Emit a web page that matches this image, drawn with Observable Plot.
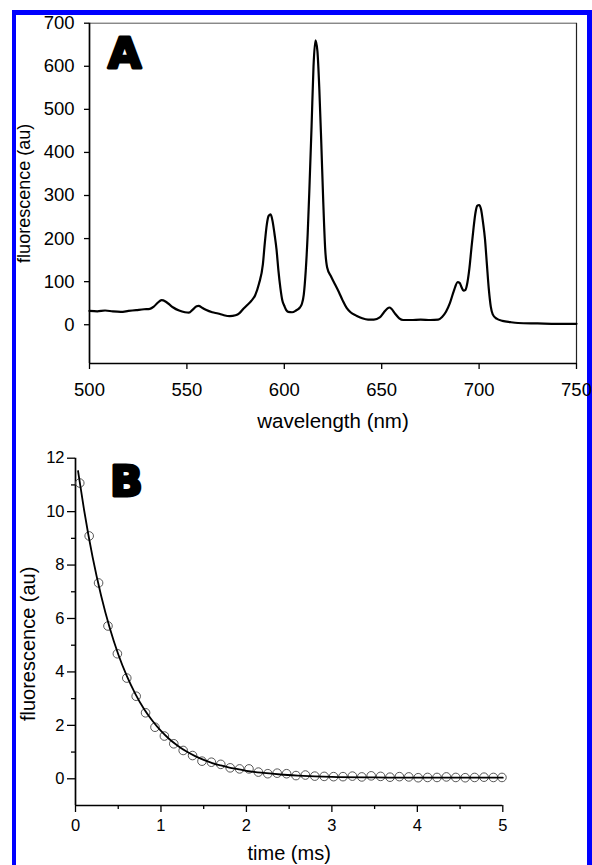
<!DOCTYPE html>
<html><head><meta charset="utf-8">
<script src="https://cdn.jsdelivr.net/npm/d3@7"></script>
<script src="https://cdn.jsdelivr.net/npm/@observablehq/plot@0.6"></script>
<style>
html,body{margin:0;padding:0;background:#fff;}
#wrap{position:relative;width:592px;height:865px;overflow:hidden;background:#fff;font-family:"Liberation Sans",Arial,sans-serif;}
#border{position:absolute;left:12px;top:10px;width:571px;height:900px;border-top:5px solid #0000ff;border-left:4px solid #0000ff;border-right:5px solid #0000ff;}
.panel{position:absolute;left:0;}
</style></head>
<body><div id="wrap"><div id="border"></div><div id="a" class="panel" style="top:0"></div><div id="b" class="panel" style="top:440px"></div></div>
<script>
// Panel A: emission spectrum
const wavelength = [500,504,508,512,516,520,524,528,531,533,535,537,539,541,543,546,549,551,553,555,556,558,560,563,566,569,572,575,577,579,581,583,585,587,589,590,591,592,593,594,595,596,597,598,599,600,601,602,604,606,608,609,610,611,612,613,614,615,616,617,618,619,620,621,622,624,626,628,630,632,634,637,640,643,646,649,651,653,654,655,657,659,661,665,670,675,679,681,683,685,687,689,690,691,692,693,694,695,696,697,698,699,700,701,702,703,704,705,706,707,709,712,716,720,730,740,750];
const intensity = [32,31,33,31,30,32,34,36,37,42,51,57,54,47,40,33,29,28,35,43,44,39,34,29,26,22,20,22,27,37,46,55,68,95,140,190,232,253,256,240,210,175,125,85,56,44,34,30,29,33,40,48,70,125,210,330,460,600,660,635,545,420,285,175,133,112,94,76,56,39,29,21,15,12,12,17,28,38,40,37,25,15,11,11,12,11,12,18,30,50,78,99,97,87,79,81,98,130,175,218,256,276,278,268,238,200,140,82,42,24,14,9,6,4,3,2,2];
const xTicksA = [500,550,600,650,700,750];
const yTicksA = [0,100,200,300,400,500,600,700];

// Panel B: decay
const times = [0.05,0.16,0.27,0.38,0.49,0.60,0.71,0.82,0.93,1.04,1.15,1.26,1.37,1.48,1.59,1.70,1.81,1.92,2.03,2.14,2.25,2.36,2.47,2.58,2.69,2.80,2.91,3.02,3.13,3.24,3.35,3.46,3.57,3.68,3.79,3.90,4.01,4.12,4.23,4.34,4.45,4.56,4.67,4.78,4.89,4.99];
const decay = [11.07,9.09,7.33,5.72,4.68,3.77,3.09,2.47,1.93,1.60,1.31,1.06,0.87,0.66,0.62,0.54,0.41,0.37,0.37,0.25,0.19,0.21,0.19,0.12,0.14,0.10,0.09,0.08,0.08,0.10,0.07,0.11,0.09,0.06,0.08,0.07,0.04,0.05,0.05,0.07,0.05,0.04,0.05,0.06,0.05,0.05];
const fitTimes = [0.03,0.1,0.2,0.3,0.4,0.5,0.6,0.7,0.8,0.9,1.0,1.1,1.2,1.3,1.4,1.5,1.6,1.7,1.8,1.9,2.0,2.2,2.4,2.6,2.8,3.0,3.5,4.0,4.5,5.0];
const fitValues = [11.52,10.07,8.30,6.85,5.65,4.66,3.85,3.18,2.62,2.17,1.79,1.48,1.23,1.02,0.85,0.71,0.59,0.50,0.42,0.36,0.30,0.22,0.16,0.12,0.09,0.07,0.05,0.04,0.04,0.04];
const xTicksB = [0,1,2,3,4,5];
const xMinorB = [0.5,1.5,2.5,3.5,4.5];
const yTicksB = [0,2,4,6,8,10,12];
const yMinorB = [1,3,5,7,9,11];

const FONT = "Liberation Sans, Arial, sans-serif";
const spectrum = wavelength.map((w, i) => ({w, v: intensity[i]}));
const points = times.map((t, i) => ({t, v: decay[i]}));
const fit = fitTimes.map((t, i) => ({t, v: fitValues[i]}));

const plotA = Plot.plot({
  width: 592, height: 440,
  marginLeft: 89, marginRight: 16, marginTop: 22.7, marginBottom: 77,
  style: {fontFamily: FONT, fontSize: "18.5px", color: "#000", background: "transparent", overflow: "visible"},
  x: {domain: [500, 750]},
  y: {domain: [-90, 700]},
  marks: [
    Plot.ruleY([700], {stroke: "#555", strokeWidth: 1}),
    Plot.ruleX([750], {stroke: "#222", strokeWidth: 1.2}),
    Plot.ruleY([-90], {stroke: "#000", strokeWidth: 1.7}),
    Plot.ruleX([500], {stroke: "#000", strokeWidth: 1.7}),
    Plot.axisX(xTicksA, {tickSize: 6, tickPadding: 13, label: null, fontSize: 18.5, strokeWidth: 1.3}),
    Plot.axisY(yTicksA, {tickSize: 5, tickPadding: 10, label: null, fontSize: 18.5, strokeWidth: 1.3}),
    Plot.line(spectrum, {x: "w", y: "v", stroke: "#000", strokeWidth: 2.2, curve: "monotone-x"}),
    Plot.text(["A"], {text: d => d, frameAnchor: "top-left", textAnchor: "start", lineAnchor: "bottom", dx: 18.5, dy: 45,
      fontSize: 43, fontWeight: "bold", fontFamily: "DejaVu Sans", fill: "#000", stroke: "#000", strokeWidth: 3}),
    Plot.text(["fluorescence (au)"], {text: d => d, frameAnchor: "left", rotate: -90, textAnchor: "middle", lineAnchor: "bottom",
      dx: -59.5, fontSize: 18, fill: "#000"}),
    Plot.text(["wavelength (nm)"], {text: d => d, frameAnchor: "bottom", textAnchor: "middle", lineAnchor: "bottom",
      dy: 64, fontSize: 20.5, fill: "#000"})
  ]
});
document.getElementById("a").appendChild(plotA);

const plotB = Plot.plot({
  width: 592, height: 425,
  marginLeft: 75, marginRight: 89.7, marginTop: 17.7, marginBottom: 60,
  style: {fontFamily: FONT, fontSize: "16.5px", color: "#000", background: "transparent", overflow: "visible"},
  x: {domain: [0, 5]},
  y: {domain: [-1, 12]},
  marks: [
    Plot.ruleY([-1], {stroke: "#000", strokeWidth: 1.7}),
    Plot.ruleX([0], {stroke: "#000", strokeWidth: 1.7}),
    Plot.axisX(xTicksB, {tickSize: 7, tickPadding: 6.5, label: null, fontSize: 16.5, strokeWidth: 1.3}),
    Plot.axisX(xMinorB, {tickSize: 4, label: null, fill: "none", strokeWidth: 1.3}),
    Plot.axisY(yTicksB, {tickSize: 8, tickPadding: 3, label: null, fontSize: 16.5, strokeWidth: 1.3}),
    Plot.axisY(yMinorB, {tickSize: 4, label: null, fill: "none", strokeWidth: 1.3}),
    Plot.dot(points, {x: "t", y: "v", r: 4.3, stroke: "#444", strokeWidth: 0.9, fill: "none"}),
    Plot.line(fit, {x: "t", y: "v", stroke: "#000", strokeWidth: 1.8, curve: "monotone-x"}),
    Plot.text(["B"], {text: d => d, frameAnchor: "top-left", textAnchor: "start", lineAnchor: "bottom", dx: 34.5, dy: 38,
      fontSize: 43, fontWeight: "bold", fontFamily: "DejaVu Sans", fill: "#000", stroke: "#000", strokeWidth: 3}),
    Plot.text(["fluorescence (au)"], {text: d => d, frameAnchor: "left", rotate: -90, textAnchor: "middle", lineAnchor: "bottom",
      dx: -41, dy: 12, fontSize: 20, fill: "#000"}),
    Plot.text(["time (ms)"], {text: d => d, frameAnchor: "bottom", textAnchor: "middle", lineAnchor: "bottom",
      dy: 54, fontSize: 20, fill: "#000"})
  ]
});
document.getElementById("b").appendChild(plotB);
</script>
</body></html>
